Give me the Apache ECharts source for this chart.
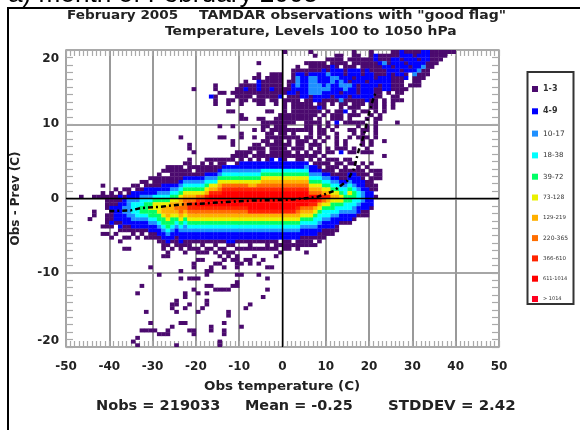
<!DOCTYPE html>
<html>
<head>
<meta charset="utf-8">
<style>html,body{margin:0;padding:0;background:#fff}#chart{width:580px;height:430px}</style>
<script src="https://cdn.jsdelivr.net/npm/echarts@6/dist/echarts.min.js"></script>
</head>
<body>
<div id="chart"></div>
<script>
//-------------------data--------------
var classLabels = ['1-3','4-9','10-17','18-38','39-72','73-128','129-219','220-365','366-610','611-1014','> 1014'];
var classCodes = '123456789ab';
var xTicks = [-50,50,10];
var yTicks = [-20,20,10];
var statLabels = ['Nobs = 219033','Mean = -0.25','STDDEV = 2.42'];

// dense part, one string per 1 C column, read top-down in 0.5 C rows from y = 5.5
var coreFirstX = -47;
var coreTopY = 5.5;
var coreColumns = [
'...........1','','.................1','...........1...11','...........1',
'........1.11.......1.1','...........1111.1111.1','..........1111211121..1','.........1.11122221..1',
'..........12122222121..1','.........1.1223322211.1','.........112333332211.1','........1.223444332211',
'........1122344443221.1','.......1.1234455432211','.......11223455543221.1','......1.122345655432211.',
'......11122456655432211','.....1111234566655432211','....1.11223456776554322111.1','...11.1122345677765543221.11',
'...111112345677765543221.1','...1111123456787654322111','...11112345677887654322211.','..1.112345678887654332211.1',
'.1111123456789987654322111.','...1.1234567899876543221.1','...1112345689a9876543221.11','..11112345689a98765432211.1',
'.1.112345679aa9876543221.11','.1111234679aaa9876543221.1','.1.1123 4679aaa98765432211.1'.replace(' ',''),'.1112356789aaa9876543221.1.1',
'.112345689aaaa9876543221.11.1','.1.2345689aaaa98765432221.1','11.2345689aaaa98765432221.1','1.12345689aaaa9876543221.1.1',
'1122345689aaaa9876543221.1.','1.22345689aaaa9876543221.1','.122345679aaaaa97654322111','1.22345679aaaaa976543221.1',
'1122345689aaaaa976543221.1','1.22456789aaaaa976543221.1','1122456789aaaaa97654322111','1222456789aaaaa976543221.1',
'1.22456789aaaaa97654322111','1222456789aaaaa97654322.1','1122456789aaaaa97654322111','1.22456789aaaaa97654322111',
'1.22456789aaaaa97654322.1','1122456789aaaa987654322111','1122456789aaaa87654322111','1.23456789aaaa87654322111',
'11.22345678aa987654322111','1.122345678aa9765443221.1','.1112345678a976544322111','1.1.1234567986544322111',
'.111123456797654432211','.1.1112345676554322211','.111.1234567654432211','..1.111234566543221',
'.1.1111234455443221','.11.122345655443221','..1.12223455443321','...11122234443221',
'..1.1112223332211','...1.1.1122222211','..1.1.111122221','....111.11.1','....111','1'
];

// sparse upper part, [lower edge of row, first column, cells]
var upperRows = [
[19.5,0,'1.....1.........1...1....112111122111111'],
[19,0,'.......1....11..11..121111122212221111'],
[18.5,0,'..........1111.1111112111221222122111'],
[18,-6,'1'],[18,0,'.....11111.1111.11111123122212222111'],
[17.5,0,'...1..1111121.111.11111221222122311'],
[17,0,'..11111112122212221211112221222311'],
[16.5,-25,'...................1..111'],[16.5,0,'..122122223222122212211121221.3111'],
[16,-25,'..................11.1111'],[16,0,'..132233222332221222212221112.111'],
[15.5,-25,'................1..211111'],[15.5,0,'.113223322232321222122222111..11'],
[15,-25,'.........1.....1111211111'],[15,0,'.123223332322333212222122111.111'],
[14.5,-25,'....1....1....11211211211'],[14.5,0,'11222233333222322122211221111'],
[14,-25,'..........11.111111111111'],[14,0,'12212233322221222122211.1.11'],
[13.5,-25,'........21....1111.111112'],[13.5,0,'.1112212222122212222211..11'],
[13,-25,'.........1..11.11.111.11.'],[13,0,'1111.11221111311111211.1.111'],
[12.5,-25,'.........1..1..1...11..1.'],[12.5,0,'1.11111.11.1.11.111.11.1.1'],
[12,0,'1.11111121...1.111..11.1.1'],
[11.5,-25,'............11.......11..'],[11.5,0,'1.1111111.1.112.1.11.1.1'],
[11,-25,'...............1........1'],[11,0,'11111111.1.111.111..1.1'],
[10.5,-25,'...............11..11..11'],[10.5,0,'1111111.1..111.1...1.11'],
[10,-25,'....................11111'],[10,0,'111..1111.1.2.11111..1'],[10,26,'1'],
[9.5,-25,'..........1..1......11.11'],[9.5,0,'1....11.1.1.1....1.1.1'],
[9,-25,'..................1.1.111'],[9,0,'1111111.11.1...11.11.1'],
[8.5,-25,'...............1.....11.1'],[8.5,0,'1.1...1.11..1...1.1..1'],
[8,-25,'.1........11...1..1..1111'],[8,0,'1111.11.1.1.1..1.111.1'],
[7.5,-25,'.............1......11.11'],[7.5,0,'.1.111.1.1..1.1...1.1'],[7.5,23,'1'],
[7,-25,'...1.........1....11.1111'],[7,0,'11.11.111...1.1...1.1'],
[6.5,-25,'...1.............1111.111'],[6.5,0,'1.111.1.1.1.111.1..1.'],
[6,-25,'....1.........1111.11.111'],[6,0,'11.1.1.11.11.2.11.111.']
];

// sparse lower part, single 1-3 cells [column, lower edge of row]
var lowerCells = [
[-37,-7],[-36,-7],[-31,-9.5],[-29,-10.5],[-24,-10],[-24,-11],[-21,-9.5],[-21,-9],[-20,-8.5],[-19,-8.5],[-17,-10],[-17,-9.5],
[-18,-10.5],[-21,-11],[-20,-11],[-22,-11],[-16,-9],[-11,-9],[-10,-9],[-11,-8.5],[-13,-8],[-9,-8.5],[-8,-8.5],[-8,-9],
[-11,-10.5],[-10,-10.5],[-6,-10.5],[-5,-8.5],[-4,-9.5],[-4,-11],[-4,-12.5],[-5,-13.5],[-8,-14.5],[-9,-15],[-13,-15.5],
[-14,-17],[-10,-17.5],[-17,-18],[-17,-17.5],[-14,-18],[-14,-18.5],[-15,-19.5],[-15,-20],[-25,-20],[-21,-18.5],[-22,-18],
[-21,-18],[-24,-17],[-23,-17],[-26,-17.5],[-27,-18],[-27,-18.5],[-29,-18.5],[-28,-18.5],[-33,-18],[-32,-18],[-31,-18],
[-30,-18],[-34,-19],[-35,-19.5],[-34,-20],[-31,-17],[-32,-15.5],[-33,-12],[-34,-13],[-23,-13],[-23,-13.5],[-25,-14],
[-26,-14.5],[-25,-14.5],[-26,-15],[-25,-15.5],[-23,-15],[-22,-14.5],[-21,-12.5],[-20,-13],[-18,-13],[-18,-14],[-18,-14.5],
[-19,-15],[-20,-15.5],[-18,-12],[-17,-12],[-16,-12.5],[-15,-12.5],[-14,-12.5],[-13,-12.5],[-12,-12],[-11,-12],[-11,-11.5],
[-13,-16],[-14,-8.5],[-12,-8.5],[-11,-9.5],[-3,-9.5],[-6,-9],[5,-7.5],[-18,-10],[-14,-9.5],[-15,-9],[-7,-8],[-2,-8],[-1,-7.5]
];

// mean curve
var curveX = [-40,-35,-32.8,-28,-23.5,-19,-14,-6.6,0,4,8,11.8,15,16.5,17.6,18.8,19.2,19.9,21,21.5];
var curveY = [-1.7,-1.6,-1.3,-1.1,-0.8,-0.7,-0.5,-0.27,-0.2,-0.05,0.2,1,2.4,4,6.5,8.5,9.5,11.3,13.5,14.2];

//-------------------build cells--------------
var cellsByClass = classLabels.map(function(){ return []; });
function addCell(ch, x, y){
	var k = classCodes.indexOf(ch);
	if (k >= 0) cellsByClass[k].push([x, y]);
}
coreColumns.forEach(function(col, i){
	for (var j = 0; j < col.length; j++) addCell(col[j], coreFirstX + i, coreTopY - j * 0.5);
});
upperRows.forEach(function(r){
	for (var j = 0; j < r[2].length; j++) addCell(r[2][j], r[1] + j, r[0]);
});
lowerCells.forEach(function(c){ addCell('1', c[0], c[1]); });

//-------------------view--------------
var classColors = ['#4b0a6e','#0000ff','#1e90ff','#00ffff','#00ff66','#eaf000','#ffb000','#ff6e00','#ff2400','#ff0000','#ff0020'];
var labelSizes = [8,8,7.5,7,7,6,5.5,6,5.5,5,5];
var TITLE = 'bold 11.5px "DejaVu Sans"';
var BOLD = 'bold 12px "DejaVu Sans"';
var STAT = 'bold 14px "DejaVu Sans"';

function renderCell(params, api){
	var p = api.coord([api.value(0), api.value(1) + 0.5]);
	var s = api.size([1, 0.5]);
	return {type:'rect', shape:{x:p[0], y:p[1], width:s[0] + 0.3, height:s[1] + 0.3}, style:{fill:api.visual('color')}};
}

var series = classLabels.map(function(name, k){
	return {name:name, type:'custom', renderItem:renderCell, data:cellsByClass[k], encode:{x:0, y:1}, clip:true, z:2,
		itemStyle:{color:classColors[k]}, silent:true};
});
series.push({
	type:'line', data:curveX.map(function(x, i){ return [x, curveY[i]]; }), showSymbol:false, z:4, silent:true,
	lineStyle:{color:'#000', width:2.5, type:[5,3,2,3]},
	markLine:{silent:true, symbol:'none', label:{show:false}, animation:false,
		lineStyle:{color:'#000', width:1.4, type:'solid'}, data:[{xAxis:0},{yAxis:0}]}
});

var rich = {};
labelSizes.forEach(function(sz, k){ rich['c' + k] = {fontSize:sz, lineHeight:8, fontFamily:'"DejaVu Sans"', fontWeight:k < 2 ? 'bold' : 'normal', color:'#333'}; });

function axisCommon(){
	return {type:'value', axisLine:{show:true, onZero:false, lineStyle:{color:'#aaa', width:1.5}}};
}
var xBottom = Object.assign(axisCommon(), {
	min:xTicks[0], max:xTicks[1], interval:xTicks[2], position:'bottom',
	axisLabel:{margin:14, color:'#222', fontFamily:'DejaVu Sans', fontWeight:'bold', fontSize:12, showMinLabel:true, showMaxLabel:true},
	axisTick:{inside:true, length:6, lineStyle:{color:'#aaa', width:1.2}},
	minorTick:{show:true, splitNumber:10, length:6, lineStyle:{color:'#aaa', width:1.2}},
	splitLine:{show:true, lineStyle:{color:'#999', width:2}}
});
var xTop = Object.assign(axisCommon(), {
	min:xTicks[0], max:xTicks[1], interval:xTicks[2], position:'top',
	axisLabel:{show:false}, axisTick:{inside:true, length:6, lineStyle:{color:'#aaa', width:1.2}},
	minorTick:{show:true, splitNumber:10, length:6, lineStyle:{color:'#aaa', width:1.2}}, splitLine:{show:false}
});
var yLeft = Object.assign(axisCommon(), {
	min:yTicks[0], max:yTicks[1], interval:yTicks[2], position:'left',
	name:'Obs - Prev (C)', nameLocation:'middle', nameGap:44, nameTextStyle:{color:'#222', fontFamily:'DejaVu Sans', fontWeight:'bold', fontSize:12},
	axisLabel:{margin:7, color:'#222', fontFamily:'DejaVu Sans', fontWeight:'bold', fontSize:12, padding:[3,0,0,0], verticalAlignMaxLabel:'top', verticalAlignMinLabel:'bottom'},
	axisTick:{inside:true, length:7, lineStyle:{color:'#aaa', width:1.2}},
	minorTick:{show:true, splitNumber:10, length:7, lineStyle:{color:'#aaa', width:1.2}},
	splitLine:{show:true, lineStyle:{color:'#888', width:1.5}}
});
var yRight = Object.assign(axisCommon(), {
	min:yTicks[0], max:yTicks[1], interval:yTicks[2], position:'right',
	axisLabel:{show:false}, axisTick:{inside:true, length:7, lineStyle:{color:'#aaa', width:1.2}},
	minorTick:{show:true, splitNumber:10, length:7, lineStyle:{color:'#aaa', width:1.2}}, splitLine:{show:false}
});

function label(text, x, y, font, sx){
	return {type:'text', x:x, y:y, scaleX:sx || 1, style:{text:text, font:font, fill:'#222', textVerticalAlign:'middle'}, z:10, silent:true};
}

var option = {
	animation:false,
	backgroundColor:'#fff',
	grid:{left:66, right:81, top:50, bottom:83, containLabel:false},
	xAxis:[xBottom, xTop],
	yAxis:[yLeft, yRight],
	legend:{
		orient:'vertical', left:532, top:85, padding:0, itemWidth:6, itemHeight:6, itemGap:14.3, icon:'rect',
		data:classLabels, selectedMode:false,
		formatter:function(n){ return '{c' + classLabels.indexOf(n) + '|' + n + '}'; },
		textStyle:{rich:rich}
	},
	series:series,
	graphic:[
		{type:'text', x:8, y:-18, silent:true, style:{text:'a) month of February 2005', font:'26.2px "Liberation Sans"', fill:'#000'}},
		{type:'line', shape:{x1:8, y1:8, x2:8, y2:430}, style:{stroke:'#000', lineWidth:2}, silent:true},
		{type:'line', shape:{x1:7, y1:8, x2:580, y2:8}, style:{stroke:'#000', lineWidth:2}, silent:true},
		{type:'rect', shape:{x:527.5, y:72, width:46, height:232}, style:{fill:'none', stroke:'#333', lineWidth:2}, silent:true},
		label('February 2005', 67, 16, TITLE, 1.18),
		label('TAMDAR observations with "good flag"', 199, 16, TITLE, 1.22),
		label('Temperature, Levels 100 to 1050 hPa', 165, 32, TITLE, 1.206),
		label('Obs temperature (C)', 204, 387, BOLD, 1.12),
		label(statLabels[0], 96, 406, STAT, 1.04),
		label(statLabels[1], 245, 406, STAT, 1.03),
		label(statLabels[2], 388, 406, STAT, 1.07)
	]
};
echarts.init(document.getElementById('chart')).setOption(option);
</script>
</body>
</html>
